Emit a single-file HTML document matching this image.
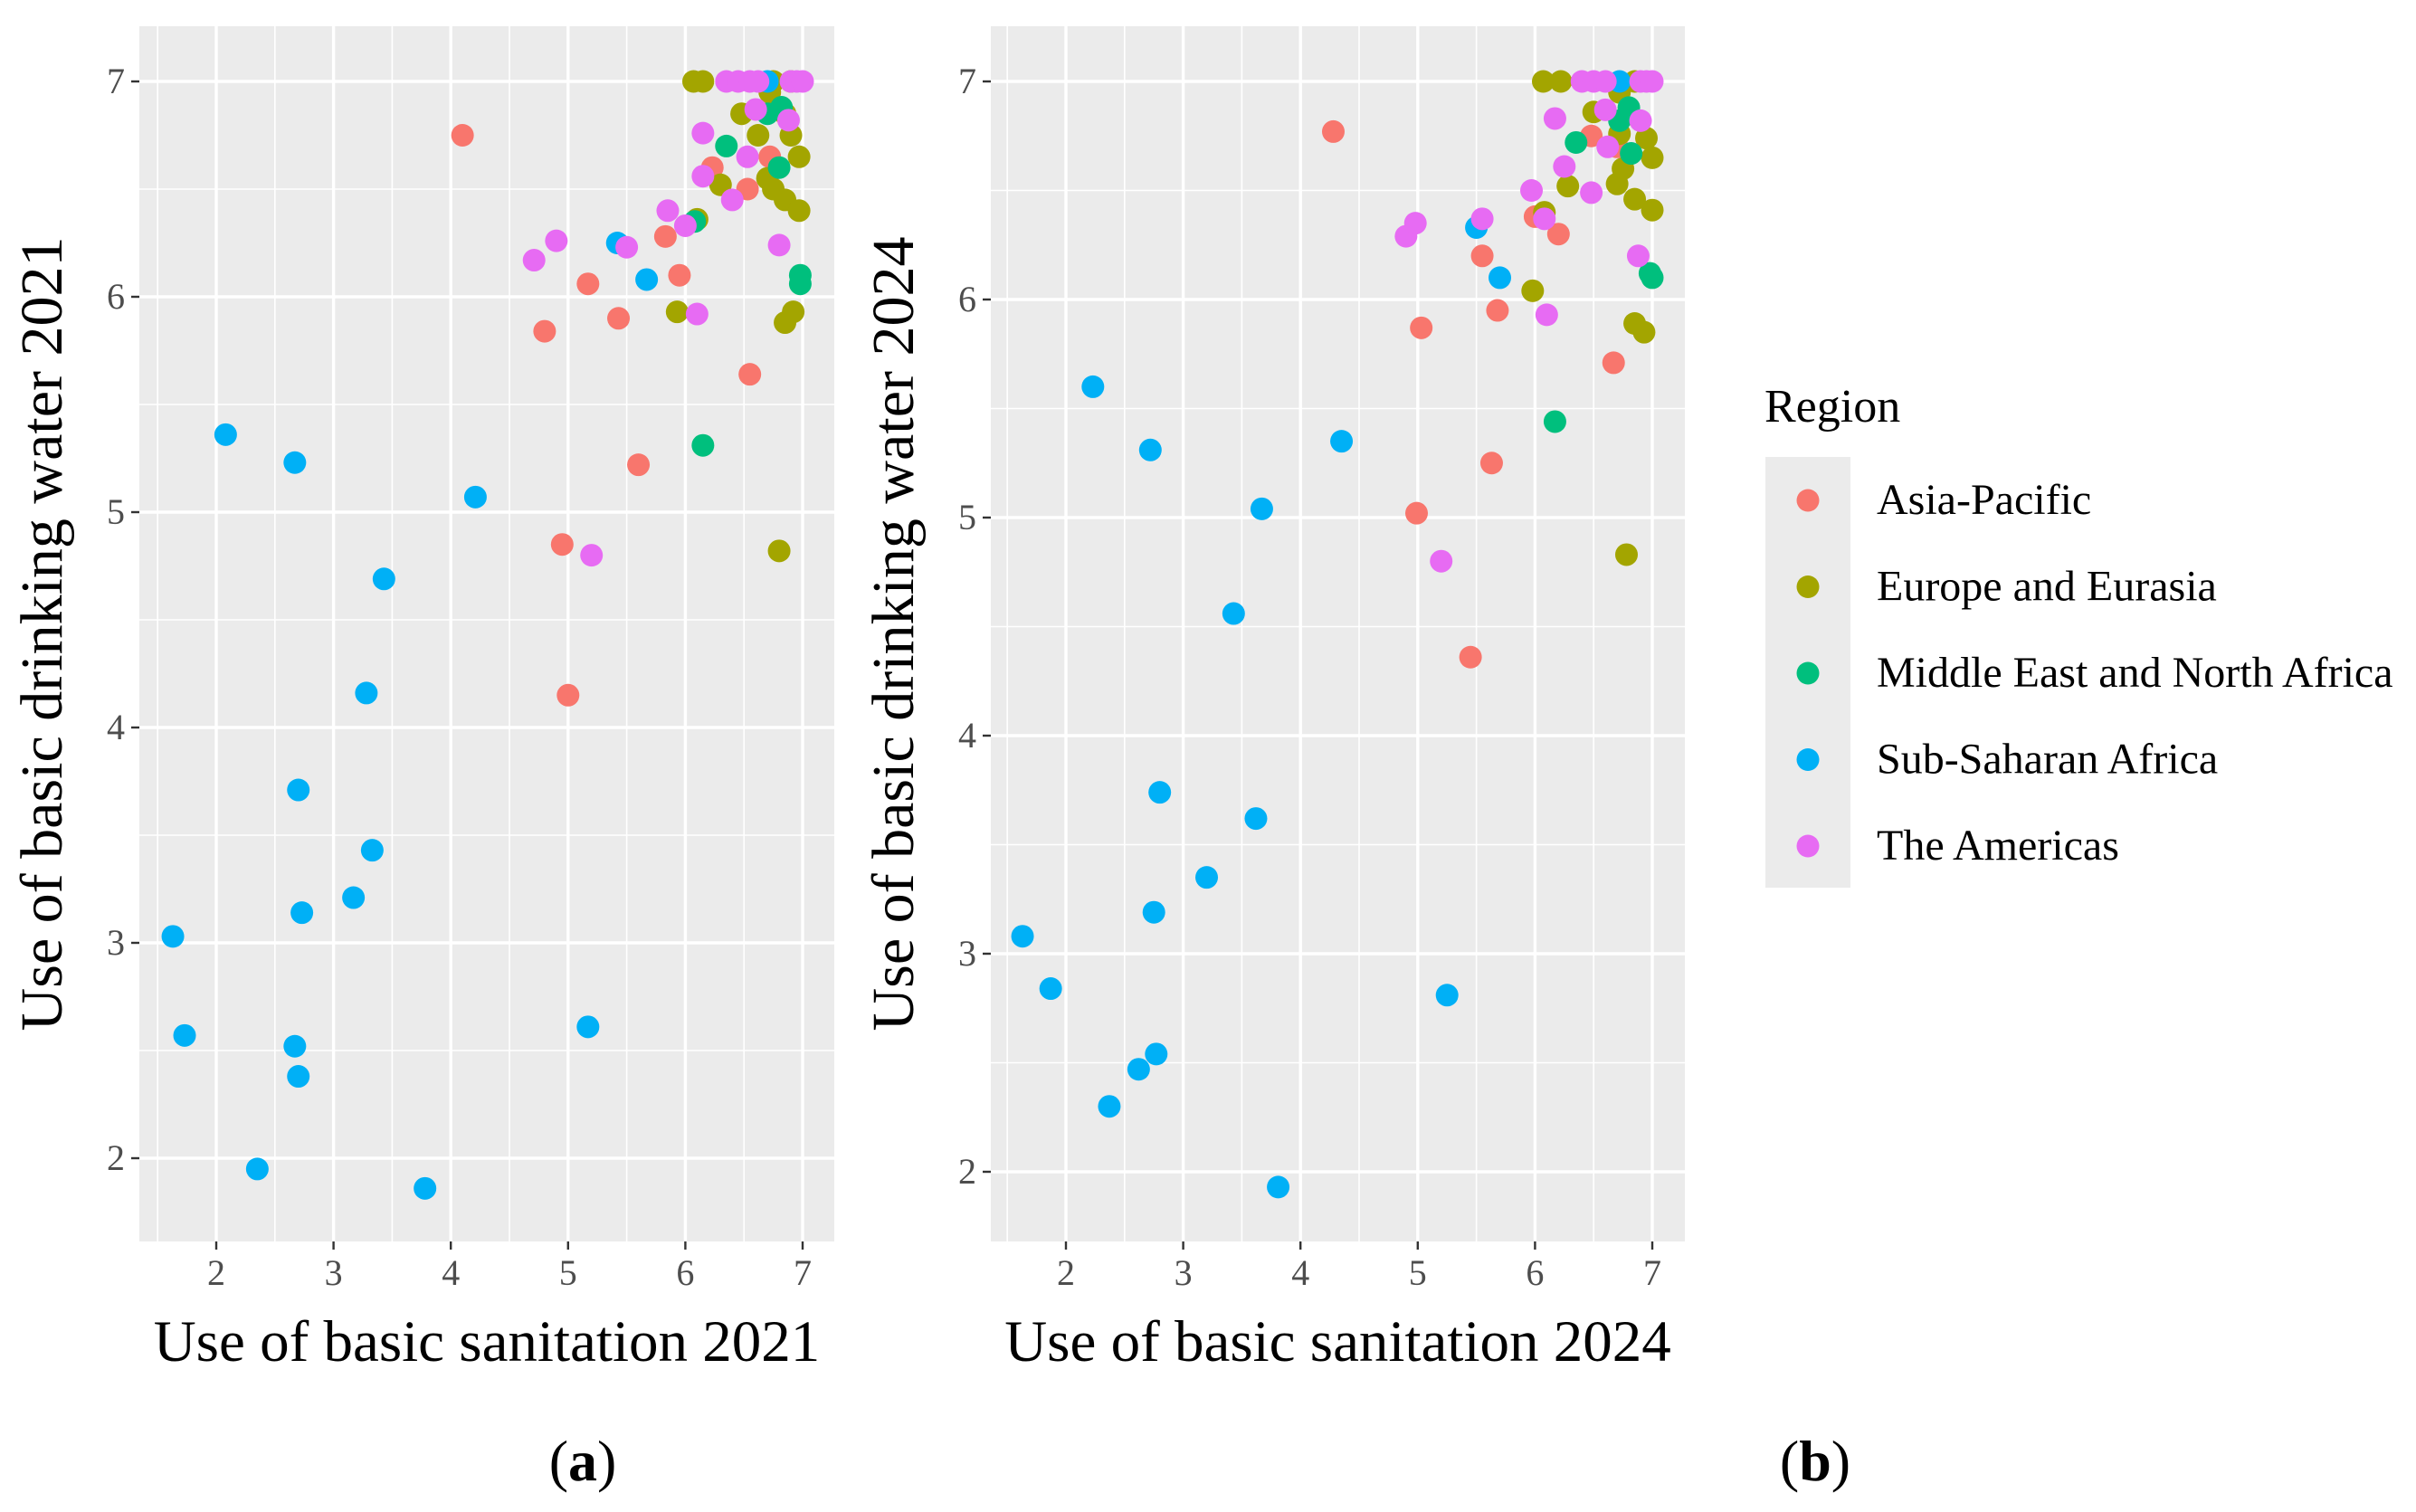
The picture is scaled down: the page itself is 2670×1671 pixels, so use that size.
<!DOCTYPE html>
<html><head><meta charset="utf-8"><style>
html,body{margin:0;padding:0;background:#fff}
svg{display:block;font-family:"Liberation Serif",serif}
</style></head><body>
<svg id="chart" width="2670" height="1671" viewBox="0 0 2670 1671" xmlns="http://www.w3.org/2000/svg"></svg>
<script>
const regions = ["Asia-Pacific","Europe and Eurasia","Middle East and North Africa","Sub-Saharan Africa","The Americas"];
const colors = ["#F8766D","#A3A500","#00BF7D","#00B0F6","#E76BF3"];
const xTicks = [2,3,4,5,6,7];
const yTicks = [2,3,4,5,6,7];
const dataA = [
 [[4.1,6.75],[4.8,5.84],[5.17,6.06],[5.43,5.9],[5.6,5.22],[4.95,4.85],[5.0,4.15],[5.83,6.28],[5.95,6.1],[6.23,6.6],[6.53,6.5],[6.55,5.64],[6.72,6.65]],
 [[6.07,7],[6.15,7],[6.8,4.82],[5.93,5.93],[6.1,6.36],[6.3,6.52],[6.48,6.85],[6.62,6.75],[6.7,6.55],[6.75,6.5],[6.85,6.45],[6.85,5.88],[6.92,5.93],[6.97,6.4],[6.97,6.65],[6.9,6.75],[6.85,6.85],[6.75,7],[6.9,7],[6.72,6.95]],
 [[6.15,5.31],[6.35,6.7],[6.08,6.35],[6.8,6.6],[6.7,6.85],[6.82,6.88],[6.98,6.1],[6.98,6.06]],
 [[1.63,3.03],[1.73,2.57],[2.08,5.36],[2.35,1.95],[2.67,5.23],[2.67,2.52],[2.7,3.71],[2.7,2.38],[2.73,3.14],[3.17,3.21],[3.28,4.16],[3.33,3.43],[3.43,4.69],[3.78,1.86],[4.21,5.07],[5.17,2.61],[5.42,6.25],[5.67,6.08],[6.7,7]],
 [[4.71,6.17],[4.9,6.26],[5.2,4.8],[5.5,6.23],[5.85,6.4],[6.0,6.33],[6.1,5.92],[6.15,6.76],[6.15,6.56],[6.4,6.45],[6.53,6.65],[6.6,6.87],[6.8,6.24],[6.88,6.82],[6.35,7],[6.45,7],[6.55,7],[6.62,7],[6.9,7],[6.95,7],[7,7]]
];
const dataB = [
 [[4.28,6.77],[5.03,5.87],[4.99,5.02],[5.45,4.36],[5.55,6.2],[5.63,5.25],[5.68,5.95],[6.0,6.38],[6.2,6.3],[6.48,6.75],[6.67,5.71],[6.7,6.7],[6.05,6.38]],
 [[6.07,7],[6.22,7],[5.98,6.04],[6.08,6.4],[6.28,6.52],[6.5,6.86],[6.7,6.53],[6.75,6.6],[6.72,6.76],[6.8,6.85],[6.85,6.46],[6.85,5.89],[6.93,5.85],[6.95,6.74],[7,6.65],[7,6.41],[6.78,4.83],[6.85,7],[6.72,6.95]],
 [[6.17,5.44],[6.35,6.72],[6.72,6.82],[6.82,6.67],[6.8,6.88],[7,6.1],[6.98,6.12]],
 [[1.63,3.08],[1.87,2.84],[2.23,5.6],[2.37,2.3],[2.62,2.47],[2.72,5.31],[2.75,3.19],[2.77,2.54],[2.8,3.74],[3.2,3.35],[3.43,4.56],[3.62,3.62],[3.67,5.04],[3.81,1.93],[4.35,5.35],[5.25,2.81],[5.5,6.33],[5.7,6.1],[6.72,7]],
 [[4.9,6.29],[4.98,6.35],[5.2,4.8],[5.55,6.37],[5.97,6.5],[6.1,5.93],[6.08,6.37],[6.17,6.83],[6.25,6.61],[6.48,6.49],[6.6,6.87],[6.62,6.7],[6.88,6.2],[6.9,6.82],[6.4,7],[6.5,7],[6.6,7],[6.9,7],[6.95,7],[7,7]]
];
const NS="http://www.w3.org/2000/svg";
const svg=document.getElementById('chart');
function mk(tag,attrs,parent){const e=document.createElementNS(NS,tag);for(const k in attrs)e.setAttribute(k,attrs[k]);(parent||svg).appendChild(e);return e;}
function panel(cfg,data,xTitle,yTitle,label,key){
  const g=mk('g',{});
  
  
  const xs=v=>cfg.x2+(v-2)*(cfg.x7-cfg.x2)/5;
  const ys=v=>cfg.y2-(v-2)*(cfg.y2-cfg.y7)/5;
  const bg=mk('rect',{x:cfg.L,y:cfg.T,width:cfg.R-cfg.L,height:cfg.B-cfg.T,fill:'#EBEBEB'},g);
  
  
  [1.5,2.5,3.5,4.5,5.5,6.5].forEach(v=>mk('line',{x1:xs(v),x2:xs(v),y1:cfg.T,y2:cfg.B,stroke:'#fff','stroke-width':1.6},g));
  [2.5,3.5,4.5,5.5,6.5].forEach(v=>mk('line',{y1:ys(v),y2:ys(v),x1:cfg.L,x2:cfg.R,stroke:'#fff','stroke-width':1.6},g));
  xTicks.forEach(v=>{
    mk('line',{x1:xs(v),x2:xs(v),y1:cfg.T,y2:cfg.B,stroke:'#fff','stroke-width':3.4},g);
    mk('line',{x1:xs(v),x2:xs(v),y1:cfg.B,y2:cfg.B+9,stroke:'#333','stroke-width':2.4},g);
    const t=mk('text',{x:xs(v),y:cfg.B+48,'text-anchor':'middle','font-size':40,fill:'#4D4D4D'},g);t.textContent=v;
    
    
  });
  yTicks.forEach(v=>{
    mk('line',{y1:ys(v),y2:ys(v),x1:cfg.L,x2:cfg.R,stroke:'#fff','stroke-width':3.4},g);
    mk('line',{y1:ys(v),y2:ys(v),x1:cfg.L-9,x2:cfg.L,stroke:'#333','stroke-width':2.4},g);
    const t=mk('text',{x:cfg.L-16,y:ys(v)+13,'text-anchor':'end','font-size':40,fill:'#4D4D4D'},g);t.textContent=v;
    
    
  });
  data.forEach((pts,ri)=>pts.forEach(p=>{
    const c=mk('circle',{cx:xs(p[0]),cy:ys(p[1]),r:12.5,fill:colors[ri]},g);
    
    
  }));
  const xt=mk('text',{x:(cfg.L+cfg.R)/2,y:cfg.B+132,'text-anchor':'middle','font-size':65,fill:'#000'},g);xt.textContent=xTitle;
  
  
  const yc=(cfg.T+cfg.B)/2;
  const ax=cfg.L-86;
  const yt=mk('text',{x:ax,y:yc,'text-anchor':'middle','font-size':66,fill:'#000',transform:`rotate(-90 ${ax} ${yc})`},g);yt.textContent=yTitle;
  
  
  const lb=mk('text',{x:cfg.lx,y:1636,'text-anchor':'middle','font-size':64,fill:'#000'},g);
  lb.innerHTML='(<tspan font-weight="bold">'+label+'</tspan>)';
  
  
}
panel({L:154,R:922,T:29,B:1372,x2:239,x7:887,y7:90,y2:1280,lx:644},dataA,'Use of basic sanitation 2021','Use of basic drinking water 2021','a','a');
panel({L:1095,R:1862,T:29,B:1372,x2:1178,x7:1826,y7:90,y2:1295,lx:2006},dataB,'Use of basic sanitation 2024','Use of basic drinking water 2024','b','b');
// legend
const lg=mk('g',{});


const lt=mk('text',{x:1950,y:466,'font-size':52,fill:'#000'},lg);lt.textContent='Region';


mk('rect',{x:1951,y:505,width:94,height:476,fill:'#EBEBEB'},lg);
regions.forEach((r,i)=>{
  const y=553+i*95.5;
  const c=mk('circle',{cx:1998,cy:y,r:12.5,fill:colors[i]},lg);
  
  
  const t=mk('text',{x:2074,y:y+15,'font-size':48,fill:'#000'},lg);t.textContent=r;
  
  
});
</script>
</body></html>
